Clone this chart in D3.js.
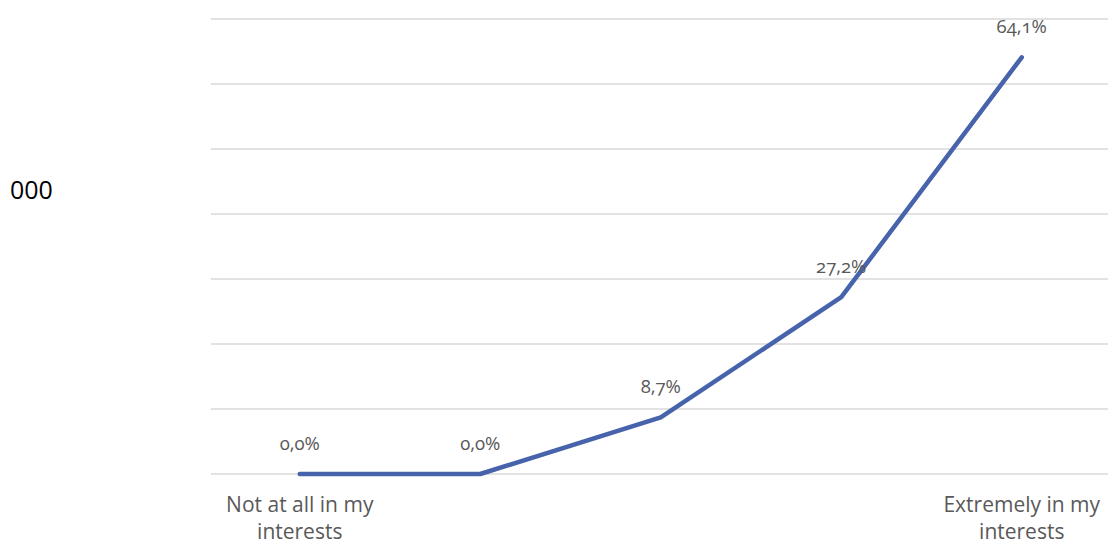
<!DOCTYPE html>
<html>
<head>
<meta charset="utf-8">
<script src="https://cdn.jsdelivr.net/npm/d3@7/dist/d3.min.js"></script>
<style>
  html, body { margin: 0; padding: 0; background: #fff; }
  svg { display: block; }
  .lbl { font-family: "Open Sans", Lato, sans-serif; font-feature-settings: "onum"; fill: #595959; }
</style>
</head>
<body>
<svg id="chart" width="1108" height="544"></svg>
<script>
const categories = ["Not at all in my interests", "", "", "", "Extremely in my interests"];
const values = [0.0, 0.0, 8.7, 27.2, 64.1];
const valueLabels = ["0,0%", "0,0%", "8,7%", "27,2%", "64,1%"];
const gridTicks = [0, 10, 20, 30, 40, 50, 60, 70];
const axisTitle = "000";

const W = 1108, H = 544;
const plot = { left: 209.5, right: 1112, top: 19, bottom: 474 };

const svg = d3.select("#chart");

const x = d3.scaleBand()
  .domain(d3.range(categories.length))
  .range([plot.left, plot.right])
  .padding(0);

const y = d3.scaleLinear()
  .domain([0, 70])
  .range([plot.bottom, plot.top]);

const cx = i => x(i) + x.bandwidth() / 2;

// horizontal gridlines
svg.append("g")
  .selectAll("line")
  .data(gridTicks)
  .join("line")
  .attr("x1", 211)
  .attr("x2", W)
  .attr("y1", d => y(d))
  .attr("y2", d => y(d))
  .attr("stroke", "#d9d9d9")
  .attr("stroke-width", 1.5);

// series line
const line = d3.line()
  .x((d, i) => cx(i))
  .y(d => y(d));

svg.append("path")
  .datum(values)
  .attr("d", line)
  .attr("fill", "none")
  .attr("stroke", "#4763ab")
  .attr("stroke-width", 4.5)
  .attr("stroke-linecap", "round")
  .attr("stroke-linejoin", "round");

// data labels
svg.append("g")
  .selectAll("text")
  .data(values)
  .join("text")
  .attr("class", "lbl")
  .attr("x", (d, i) => cx(i))
  .attr("y", d => y(d) - 24.5)
  .attr("text-anchor", "middle")
  .attr("font-size", 18.5)
  .text((d, i) => valueLabels[i]);

// category labels (wrapped to two lines)
const catG = svg.append("g");
categories.forEach((c, i) => {
  if (!c) return;
  const words = c.split(" ");
  const l1 = words.slice(0, words.length - 1).join(" ");
  const l2 = words[words.length - 1];
  const t = catG.append("text")
    .attr("class", "lbl")
    .attr("text-anchor", "middle")
    .attr("font-size", 21);
  t.append("tspan").attr("x", cx(i)).attr("y", 512).text(l1);
  t.append("tspan").attr("x", cx(i)).attr("y", 538.5).text(l2);
});

// axis title
svg.append("text")
  .attr("x", 10)
  .attr("y", 199)
  .attr("font-family", "'Open Sans', Lato, sans-serif")
  .attr("font-size", 25)
  .attr("fill", "#000")
  .text(axisTitle);
</script>
</body>
</html>
